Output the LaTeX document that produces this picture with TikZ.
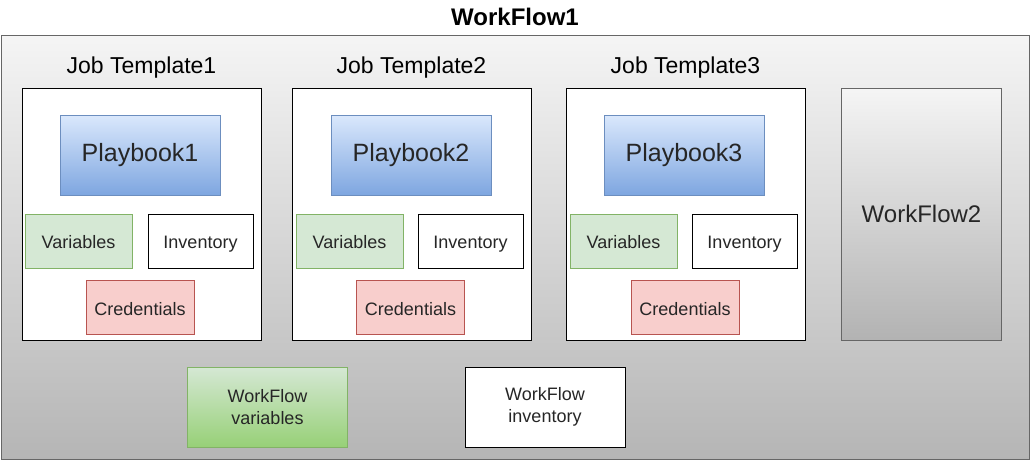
\documentclass[tikz,border=0pt]{standalone}
\usepackage{fontspec}
\setmainfont{Liberation Sans}
\usepackage{tikz}
\usetikzlibrary{positioning}

\definecolor{wfline}{HTML}{666666}
\definecolor{blueline}{HTML}{6C8EBF}
\definecolor{bluetop}{HTML}{DAE8FC}
\definecolor{bluebot}{HTML}{7EA6E0}
\definecolor{greenline}{HTML}{82B366}
\definecolor{greenfill}{HTML}{D5E8D4}
\definecolor{greenbot}{HTML}{97D077}
\definecolor{redline}{HTML}{B85450}
\definecolor{redfill}{HTML}{F8CECC}

\begin{document}
\begin{tikzpicture}[
    x=1pt, y=-1pt,
    every node/.style={inner sep=0pt, align=center, text=black!85},
    box/.style={draw, line width=0.9pt, minimum width=#1},
    small/.style={minimum height=54pt, font=\fontsize{18}{22}\selectfont, text height=19pt, text depth=4pt},
    outerbox/.style={draw=wfline, line width=1pt, top color=black!4, bottom color=black!29, minimum width=1028pt, minimum height=424pt},
    template/.style={box=239pt, draw=black, fill=white, minimum height=252pt},
    playbook/.style={box=160pt, draw=blueline, top color=bluetop, bottom color=bluebot, minimum height=80pt, font=\fontsize{25}{30}\selectfont},
    vars/.style={box=107pt, small, draw=greenline, fill=greenfill},
    inv/.style={box=105pt, small, draw=black, fill=white},
    cred/.style={box=108pt, small, draw=redline, fill=redfill},
    wfbox/.style={box=160pt, minimum height=80pt, font=\fontsize{18}{22}\selectfont},
    tlabel/.style={font=\fontsize{23}{27}\selectfont, text=black},
]
\useasboundingbox (0,0) rectangle (1030,461);

% -- Outer workflow --
\node[outerbox] (wf1) at (515,247) {};
\node[font=\bfseries\fontsize{24}{28}\selectfont, text=black] (title) at (515,17) {WorkFlow1};

% -- Job templates --
\node[template] (jt1) at (141.5,214) {};
\node[template] (jt2) at (411.5,214) {};
\node[template] (jt3) at (685.5,214) {};
\node[tlabel, above=9pt of jt1] {Job Template1};
\node[tlabel, above=9pt of jt2] {Job Template2};
\node[tlabel, above=9pt of jt3] {Job Template3};

% -- Template 1 --
\node[playbook] (pb1) at (140,155) {Playbook1};
\node[vars] (var1) at (78.5,241) {Variables};
\node[inv] (inv1) at (200.5,241) {Inventory};
\node[cred] (cred1) at (140,307.5) {Credentials};

% -- Template 2 --
\node[playbook] (pb2) at (411,155) {Playbook2};
\node[vars] (var2) at (349.5,241) {Variables};
\node[inv] (inv2) at (470.5,241) {Inventory};
\node[cred] (cred2) at (410.5,307.5) {Credentials};

% -- Template 3 --
\node[playbook] (pb3) at (684,155) {Playbook3};
\node[vars] (var3) at (623.5,241) {Variables};
\node[inv] (inv3) at (744.5,241) {Inventory};
\node[cred] (cred3) at (685,307.5) {Credentials};

% -- Nested workflow --
\node[box=160pt, draw=wfline, top color=black!4, bottom color=black!30, minimum height=252pt, font=\fontsize{24}{28}\selectfont] (wf2) at (921.5,214) {WorkFlow2};

% -- Workflow level --
\node[wfbox, draw=greenline, top color=greenfill, bottom color=greenbot] (wfvar) at (267.5,407) {WorkFlow\\variables};
\node[wfbox, draw=black, fill=white] (wfinv) at (545,407) {WorkFlow\\inventory};

\end{tikzpicture}
\end{document}
